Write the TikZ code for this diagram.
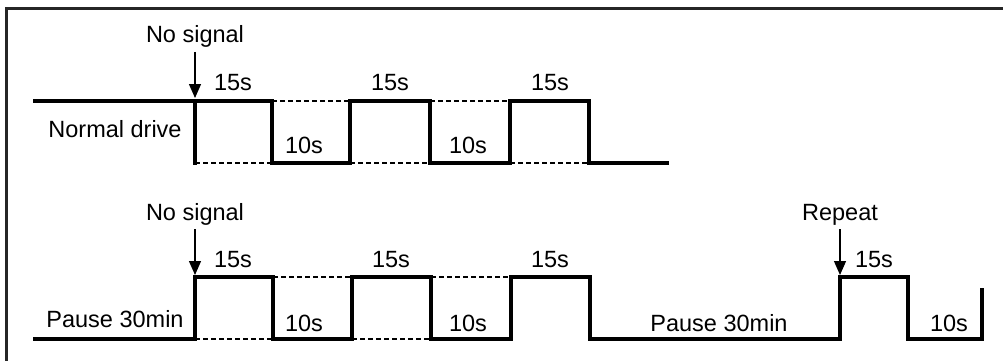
\documentclass[tikz,border=0pt]{standalone}
\usepackage{fontspec}
\setmainfont{Liberation Sans}
\usetikzlibrary{arrows.meta}
\begin{document}
\begin{tikzpicture}[x=1pt,y=-1pt,
  sig/.style={line width=3.2pt,line join=miter,line cap=rect},
  ghost/.style={line width=2.2pt,dash pattern=on 5pt off 3pt},
  frame/.style={line width=2.6pt,black!85},
  lbl/.style={inner sep=0pt,anchor=base,font=\fontsize{23.5}{26}\selectfont},
  marker/.style={line width=1.3pt,-{Triangle[length=14pt,width=12pt]}}]
\useasboundingbox (0,0) rectangle (1003,361);
% frame
\draw[frame] (6.3,361) -- (6.3,8.3) -- (1003,8.3);
% ---------- row 1 ----------
\draw[sig] (35,101) -- (272,101);
\draw[sig] (195,101) -- (195,163);
\draw[sig] (272,101) -- (272,163) -- (350,163) -- (350,101) -- (430,101) -- (430,163)
  -- (510,163) -- (510,101) -- (589,101) -- (589,163) -- (667,163);
\draw[ghost] (195,163) -- (272,163);
\draw[ghost] (272,101) -- (350,101);
\draw[ghost] (350,163) -- (430,163);
\draw[ghost] (430,101) -- (510,101);
\draw[ghost] (510,163) -- (589,163);
\node[lbl] (ns1) at (195,42) {No signal};
\coordinate (t1) at (195,98);
\draw[marker] (195,52) -- (t1);
\node[lbl] (a1) at (233,90) {15s};
\node[lbl] (a2) at (390,90) {15s};
\node[lbl] (a3) at (550,90) {15s};
\node[lbl] (b1) at (304,153) {10s};
\node[lbl] (b2) at (468,153) {10s};
\node[lbl] (nd) at (115,137) {Normal drive};
% ---------- row 2 ----------
\draw[sig] (35,339) -- (195,339) -- (195,277) -- (273,277) -- (273,339) -- (352,339)
  -- (352,277) -- (431,277) -- (431,339) -- (511,339) -- (511,277) -- (590,277)
  -- (590,339) -- (840,339) -- (840,277) -- (908,277) -- (908,339) -- (982,339) -- (982,290);
\draw[ghost] (195,339) -- (273,339);
\draw[ghost] (273,277) -- (352,277);
\draw[ghost] (352,339) -- (431,339);
\draw[ghost] (431,277) -- (511,277);
\node[lbl] (ns2) at (195,220) {No signal};
\coordinate (t2) at (195,275);
\draw[marker] (195,229) -- (t2);
\node[lbl] (rp) at (840,220) {Repeat};
\coordinate (t3) at (840,275);
\draw[marker] (840,229) -- (t3);
\node[lbl] (c1) at (233,267) {15s};
\node[lbl] (c2) at (391,267) {15s};
\node[lbl] (c3) at (550,267) {15s};
\node[lbl] (c4) at (874,267) {15s};
\node[lbl] (d1) at (304,331) {10s};
\node[lbl] (d2) at (468,331) {10s};
\node[lbl] (d3) at (949,331) {10s};
\node[lbl] (p1) at (115,327) {Pause 30min};
\node[lbl] (p2) at (719,331) {Pause 30min};
\end{tikzpicture}
\end{document}
